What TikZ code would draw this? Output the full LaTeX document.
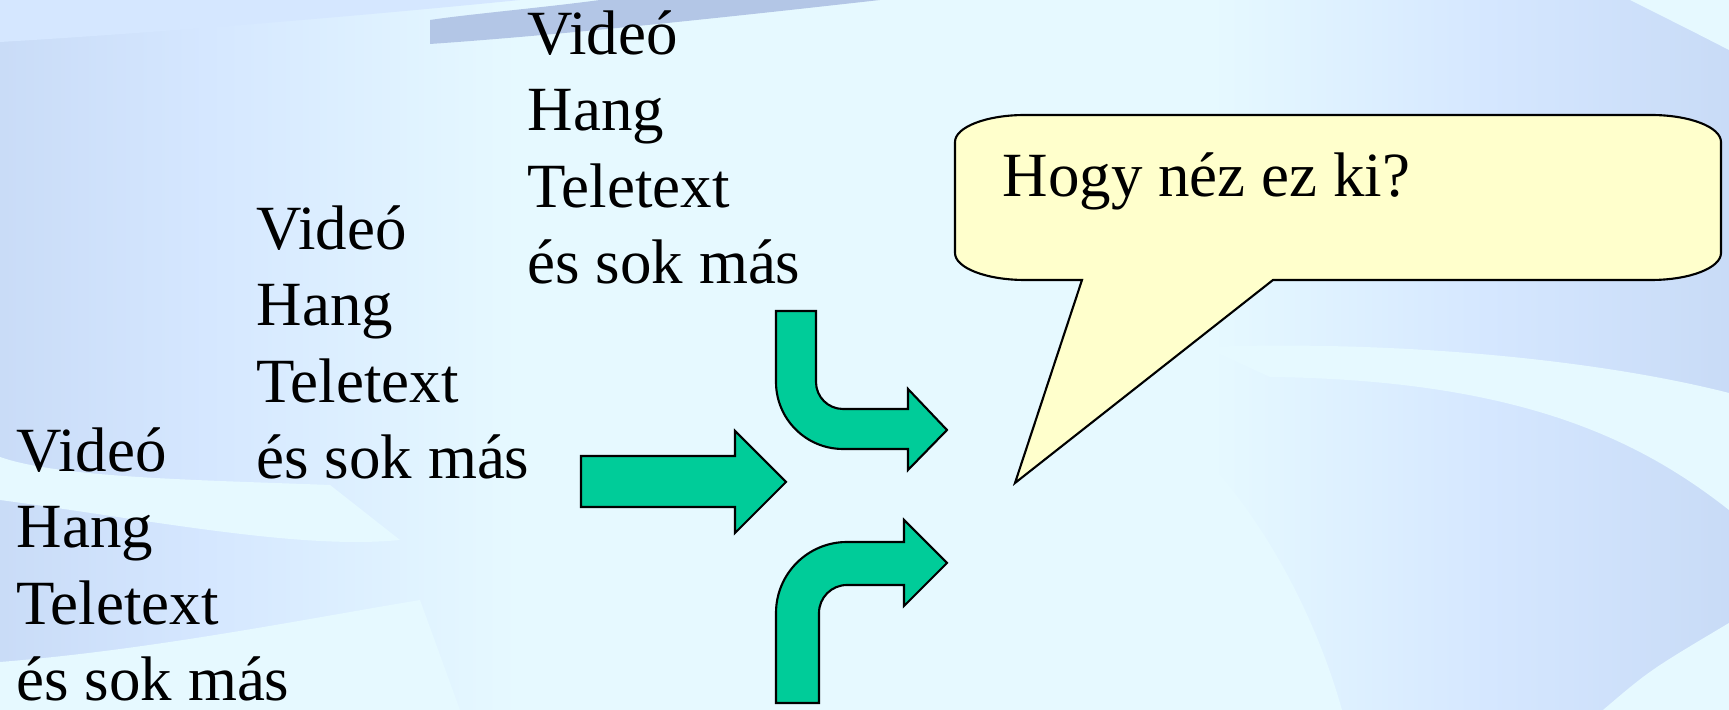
\documentclass[tikz,border=0pt]{standalone}
\usepackage{fontspec}
\setmainfont{Liberation Serif}
\usepackage{tikz}
\definecolor{bgedge}{HTML}{AFC2E3}
\definecolor{bgmid}{HTML}{C3D6F3}
\definecolor{bgpale}{HTML}{D5E7FF}
\definecolor{bglight}{HTML}{E6F9FF}
\definecolor{arrowgreen}{HTML}{00CC99}
\definecolor{bubblefill}{HTML}{FFFFCC}
\pgfdeclarehorizontalshading{slidebg}{100bp}{color(0bp)=(bgedge); color(12bp)=(bgedge); color(22bp)=(bgmid); color(31bp)=(bgpale); color(40bp)=(bglight); color(60bp)=(bglight); color(68bp)=(bgpale); color(78bp)=(bgmid); color(90bp)=(bgedge); color(100bp)=(bgedge)}
\tikzset{
  wave/.style={fill=bglight, draw=none},
  darkwave/.style={fill=bgedge!80!bgmid, draw=none},
  blockarrow/.style={fill=arrowgreen, draw=black, line width=0.6pt, line join=miter},
  bubble/.style={fill=bubblefill, draw=black, line width=0.6pt},
  lines/.style={font=\fontsize{17.9pt}{21.8pt}\selectfont, align=left, inner sep=0pt, text=black}
}

\begin{document}
\begin{tikzpicture}[x=0.01cm, y=-0.01cm]
  \useasboundingbox (0,0) rectangle (1729,710);
  % background
  \shade[shading=slidebg] (0,0) rectangle (1729,710);
  \fill[bgpale] (0,0) -- (520,0) .. controls (320,20) and (120,35) .. (0,42) -- cycle;
  \fill[darkwave] (430,44) .. controls (560,35) and (720,18) .. (880,0)
    -- (600,0) .. controls (540,8) and (470,14) .. (430,20) -- cycle;
  \fill[wave] (1630,0) -- (1729,0) -- (1729,50) .. controls (1690,30) .. (1630,0) -- cycle;
  \fill[wave] (1204,347) .. controls (1400,340) and (1600,360) .. (1729,393)
    -- (1729,510) .. controls (1640,440) and (1520,380) .. (1270,377) -- cycle;
  \fill[wave] (1603,710) .. controls (1650,670) .. (1729,623) -- (1729,710) -- cycle;
  \fill[wave] (1100,380) .. controls (1200,420) and (1300,560) .. (1342,710)
    -- (900,710) -- (900,380) -- cycle;
  \fill[wave] (0,457) .. controls (60,478) and (200,480) .. (330,485)
    -- (400,540) .. controls (300,550) and (150,520) .. (0,500) -- cycle;
  \fill[wave] (0,662) .. controls (150,650) and (300,620) .. (420,600)
    -- (460,710) -- (0,710) -- cycle;

  % the three text columns
  \node[lines, anchor=base west] (coltop) at (527,284) {Videó\\Hang\\Teletext\\és sok más};
  \node[lines, anchor=base west] (colmid) at (256,479) {Videó\\Hang\\Teletext\\és sok más};
  \node[lines, anchor=base west] (colleft) at (16,701) {Videó\\Hang\\Teletext\\és sok más};

  % arrows
  \draw[blockarrow] (581,456) -- (735,456) -- (735,431) -- (786,482)
    -- (735,533) -- (735,507) -- (581,507) -- cycle;
  \draw[blockarrow] (776,311) -- (816,311) -- (816,382) arc[start angle=180, end angle=90, radius=27]
    -- (908,409) -- (908,389) -- (947,430) -- (908,470) -- (908,449) -- (843,449)
    arc[start angle=90, end angle=180, radius=67] -- cycle;
  \draw[blockarrow] (776,703) -- (776,613) arc[start angle=180, end angle=270, radius=71]
    -- (904,542) -- (904,520) -- (947,563) -- (904,606) -- (904,585) -- (847,585)
    arc[start angle=270, end angle=180, radius=28] -- (819,703) -- cycle;

  % callout
  \draw[bubble] (955,142) arc[start angle=180, end angle=270, x radius=70, y radius=27]
    -- (1651,115) arc[start angle=270, end angle=360, x radius=70, y radius=27]
    -- (1721,253) arc[start angle=0, end angle=90, x radius=70, y radius=27]
    -- (1273,280) -- (1015,483) -- (1082,280) -- (1025,280)
    arc[start angle=90, end angle=180, x radius=70, y radius=27] -- cycle;
  \node[lines, anchor=base west] (question) at (1002,197) {Hogy néz ez ki?};
\end{tikzpicture}
\end{document}
